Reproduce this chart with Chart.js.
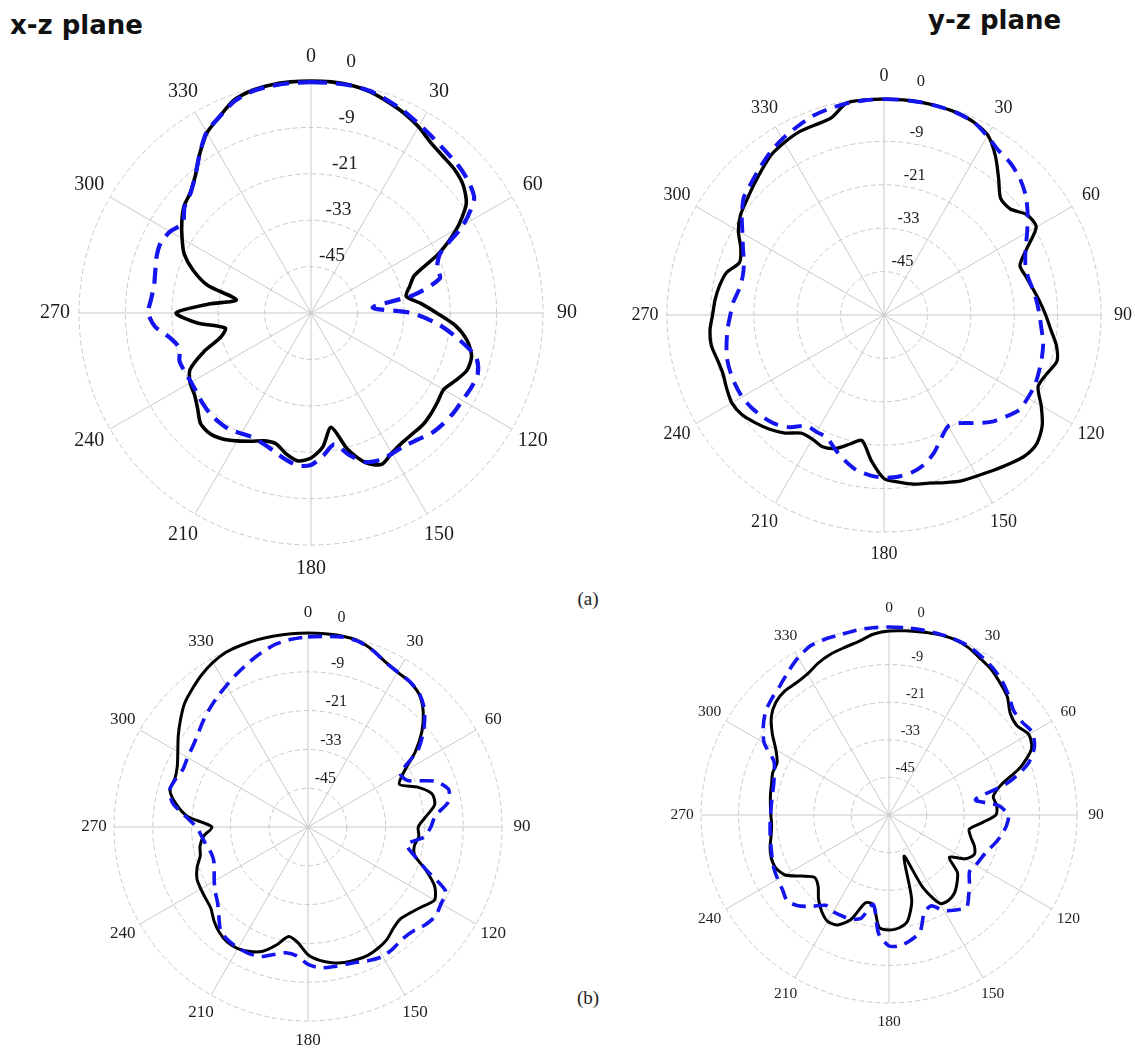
<!DOCTYPE html>
<html>
<head>
<meta charset="utf-8">
<script src="https://cdn.jsdelivr.net/npm/chart.js@4.4.1/dist/chart.umd.min.js"></script>
<style>
  html, body { margin: 0; padding: 0; background: #ffffff; }
  body { width: 1135px; height: 1053px; position: relative; overflow: hidden; }
  canvas.plot { position: absolute; }
  .title { position: absolute; font-family: "DejaVu Sans", sans-serif; font-weight: bold;
           font-size: 26px; line-height: 26px; color: #111; white-space: nowrap; }
  .tag { position: absolute; font-family: "Liberation Serif", "Times New Roman", serif;
         font-size: 19px; line-height: 19px; color: #1c1c1c; transform: translate(-50%, -50%); }
</style>
</head>
<body>
<div class="title" style="left:10px; top:12px;">x-z plane</div>
<div class="title" style="left:928px; top:7px;">y-z plane</div>
<div class="tag" style="left:588px; top:598px;">(a)</div>
<div class="tag" style="left:588px; top:997px;">(b)</div>
<canvas id="xzA" class="plot"></canvas>
<canvas id="yzA" class="plot"></canvas>
<canvas id="xzB" class="plot"></canvas>
<canvas id="yzB" class="plot"></canvas>
<script>
// Angle categories (degrees, clockwise from the top)
const angles = [0, 5, 10, 15, 20, 25, 30, 35, 40, 45, 50, 55, 60, 65, 70, 75, 80, 85,
  90, 95, 100, 105, 110, 115, 120, 125, 130, 135, 140, 145, 150, 155, 160, 165, 170, 175,
  180, 185, 190, 195, 200, 205, 210, 215, 220, 225, 230, 235, 240, 245, 250, 255, 260, 265,
  270, 275, 280, 285, 290, 295, 300, 305, 310, 315, 320, 325, 330, 335, 340, 345, 350, 355];

// Tick labels
const angleTickLabels = ['0', '30', '60', '90', '120', '150', '180', '210', '240', '270', '300', '330'];
const radialTickValues = [-45, -33, -21, -9, 0];
const radialTickLabels = ['-45', '-33', '-21', '-9', '0'];

// Normalised gain (dB), one value per angle category
const xzA_solid = [0, 0, -0.2, -0.8, -1.9, -3.0, -4.4, -6.1, -7.0, -7.5, -8.6, -11.0,
  -16.5, -23.5, -31.5, -33.6, -35.0, -31.5, -27.5, -22.5, -19.0, -17.0, -17.0, -18.7,
  -20.4, -20.0, -19.5, -19.1, -19.2, -19.0, -18.2, -16.8, -18.8, -23.5, -30.0, -25.2,
  -22.5, -21.6, -23.0, -25.0, -24.8, -23.4, -21.8, -20.2, -19.3, -19.6, -21.7, -23.2,
  -23.9, -25.5, -30.4, -35.8, -37.5, -30.5, -25.1, -33.5, -40.4, -32.3, -27.5, -23.8,
  -21.5, -19.2, -17.1, -15.9, -13.5, -9.8, -6.2, -4.0, -1.5, -0.5, -0.1, 0];
const xzA_dashed = [-0.3, -0.3, -0.3, -0.6, -1.6, -2.6, -3.8, -4.8, -5.6, -6.1, -6.9, -8.5,
  -14.6, -23.0, -25.3, -25.5, -33.0, -44.0, -34.0, -27.0, -21.3, -15.8, -14.1, -14.3,
  -14.8, -15.0, -15.4, -16.0, -17.2, -18.0, -18.0, -18.0, -19.0, -22.0, -25.5, -23.0,
  -20.7, -20.4, -21.6, -23.0, -24.0, -24.5, -24.0, -23.2, -23.1, -23.1, -23.5, -24.0,
  -24.2, -24.0, -23.8, -24.8, -23.0, -19.5, -17.9, -18.5, -18.8, -18.3, -17.5, -17.1,
  -17.9, -19.5, -17.3, -16.0, -13.5, -9.8, -6.0, -4.0, -1.8, -0.7, -0.4, -0.3];

const yzA_solid = [-0.3, -0.3, -0.3, -0.4, -0.6, -1.2, -2.6, -6.3, -10.7, -14.4, -14.4, -11.7,
  -11.4, -16.4, -20.0, -19.3, -18.2, -16.8, -15.3, -13.7, -11.6, -10.5, -12.2, -13.0,
  -9.8, -6.6, -4.8, -4.9, -6.2, -7.5, -8.6, -9.4, -10.7, -11.9, -12.5, -13.6,
  -14.8, -19.6, -24.8, -23.0, -20.7, -19.8, -20.4, -20.1, -17.4, -15.3, -13.6, -12.0,
  -11.4, -12.0, -12.6, -12.3, -11.5, -11.7, -12.6, -13.1, -13.8, -14.9, -17.5, -16.3,
  -13.5, -11.6, -10.5, -9.1, -7.5, -5.8, -4.9, -4.2, -4.1, -3.6, -0.5, -0.3];
const yzA_dashed = [-0.3, -0.3, -0.3, -0.4, -0.6, -1.2, -2.9, -4.6, -5.4, -6.8, -8.8, -11.5,
  -14.3, -16.8, -18.4, -18.8, -18.3, -17.6, -17.0, -16.3, -15.3, -14.8, -14.4, -14.0,
  -14.1, -14.3, -16.2, -18.2, -21.0, -23.5, -24.5, -22.5, -19.5, -17.2, -15.8, -15.1,
  -15.0, -15.5, -16.4, -18.3, -20.5, -22.6, -22.7, -22.6, -19.5, -17.4, -16.2, -15.3,
  -14.7, -14.6, -14.7, -15.0, -15.8, -16.6, -17.5, -18.2, -19.3, -19.5, -18.8, -17.0,
  -14.8, -12.0, -9.4, -8.2, -6.7, -5.1, -3.8, -2.7, -1.6, -1.0, -0.6, -0.4];

const xzB_solid = [0, 0, 0, -0.3, -1.7, -3.6, -4.7, -5.2, -6.5, -9.6, -14.0, -19.5,
  -25.7, -28.8, -23.9, -20.3, -20.2, -23.4, -25.9, -25.6, -26.6, -25.8, -21.3, -16.8,
  -14.8, -17.0, -18.7, -19.7, -19.0, -17.5, -16.7, -16.2, -16.3, -16.6, -17.4, -18.6,
  -20.5, -24.1, -25.6, -22.2, -19.1, -17.5, -16.6, -16.5, -17.4, -18.9, -20.8, -21.4,
  -21.7, -22.1, -23.5, -25.5, -26.1, -27.6, -30.3, -22.6, -18.5, -15.8, -16.2, -15.4,
  -13.5, -11.0, -8.5, -6.0, -4.3, -2.6, -1.2, -0.3, -0.1, 0, 0, 0];
const xzB_dashed = [-1.2, -0.8, -0.3, -0.5, -1.8, -3.6, -4.6, -5.1, -6.3, -9.0, -13.3, -18.5,
  -27.0, -26.0, -18.5, -15.0, -16.0, -20.5, -22.0, -24.0, -29.0, -26.0, -21.0, -13.0,
  -12.5, -11.9, -12.8, -14.3, -14.7, -14.1, -13.8, -14.5, -15.5, -16.0, -16.1, -16.3,
  -17.5, -20.0, -20.5, -19.2, -17.4, -16.8, -16.8, -17.1, -18.0, -21.0, -23.5, -25.0,
  -26.5, -28.0, -29.0, -29.0, -28.0, -27.0, -25.5, -22.0, -17.5, -15.7, -16.5, -17.4,
  -17.0, -16.5, -15.5, -14.0, -12.5, -11.0, -9.5, -7.8, -6.0, -4.2, -2.6, -1.7];

const yzB_solid = [-1.3, -1.0, -0.7, -0.3, -0.2, -0.8, -2.1, -3.2, -4.9, -6.6, -9.5, -10.2,
  -8.5, -9.8, -15.3, -23.0, -26.2, -25.5, -25.9, -30.5, -34.0, -33.0, -31.0, -30.0,
  -32.0, -36.5, -31.5, -29.3, -27.5, -26.8, -27.4, -34.5, -46.0, -32.0, -25.7, -23.8,
  -23.3, -24.0, -31.0, -31.0, -24.5, -21.3, -20.8, -22.5, -25.0, -28.0, -29.0, -26.0,
  -21.7, -20.1, -20.0, -20.7, -21.8, -22.4, -22.3, -22.0, -21.6, -21.2, -20.5, -20.6,
  -18.3, -14.5, -11.0, -9.0, -8.3, -8.5, -8.0, -6.5, -5.4, -4.7, -3.8, -2.1];
const yzB_dashed = [0, 0, 0, 0, -0.1, -0.4, -1.4, -2.5, -4.0, -6.0, -8.1, -8.2,
  -7.2, -8.8, -13.0, -21.0, -32.0, -25.0, -21.9, -22.3, -23.5, -25.0, -26.6, -27.5,
  -28.0, -28.6, -26.5, -24.0, -21.5, -23.0, -24.8, -28.0, -27.0, -21.5, -19.5, -18.2,
  -18.2, -22.0, -31.0, -26.0, -24.6, -24.5, -24.4, -24.8, -22.0, -19.0, -17.5, -18.5,
  -19.0, -19.5, -20.3, -21.0, -21.5, -21.9, -22.2, -22.3, -22.2, -21.9, -21.0, -19.5,
  -14.0, -11.0, -8.6, -7.2, -6.0, -4.0, -2.0, -0.5, -0.3, -0.4, -0.1, 0];

const PAD = 46;
const DEG = Math.PI / 180;

// Angle and level captions for one polar panel
function panelText(cfg) {
  return {
    id: 'panelText',
    afterDraw(chart) {
      const s = chart.scales.r;
      const ctx = chart.ctx;
      ctx.save();
      ctx.fillStyle = '#1c1c1c';
      ctx.textAlign = 'center';
      ctx.textBaseline = 'middle';
      ctx.font = cfg.angleFont + 'px "Liberation Serif", "Times New Roman", serif';
      angleTickLabels.forEach((txt) => {
        const idx = angles.indexOf(Number(txt));
        const p = s.getPointPosition(idx, s.drawingArea + cfg.labelGap);
        ctx.fillText(txt, p.x, p.y);
      });
      ctx.font = cfg.tickFont + 'px "Liberation Serif", "Times New Roman", serif';
      ctx.textAlign = 'left';
      const tilt = 8 * DEG;
      radialTickValues.forEach((v, k) => {
        let d = s.getDistanceFromCenterForValue(v);
        if (v === s.max) d += cfg.tickFont * 1.1;
        ctx.fillText(radialTickLabels[k], s.xCenter + d * Math.sin(tilt), s.yCenter - d * Math.cos(tilt));
      });
      ctx.restore();
    }
  };
}

function polarPanel(id, cfg) {
  const canvas = document.getElementById(id);
  const size = 2 * (cfg.radius + PAD);
  canvas.width = size;
  canvas.height = size;
  canvas.style.width = size + 'px';
  canvas.style.height = size + 'px';
  canvas.style.left = (cfg.cx - cfg.radius - PAD) + 'px';
  canvas.style.top = (cfg.cy - cfg.radius - PAD) + 'px';

  return new Chart(canvas, {
    type: 'radar',
    data: {
      labels: angles,
      datasets: [
        { data: cfg.dashed, borderColor: '#1414ee', borderWidth: cfg.lwDash,
          borderDash: cfg.dash, borderCapStyle: 'butt', borderJoinStyle: 'round',
          pointRadius: 0, fill: false, tension: 0.25 },
        { data: cfg.solid, borderColor: '#000000', borderWidth: cfg.lw,
          borderJoinStyle: 'round', pointRadius: 0, fill: false, tension: 0.25 }
      ]
    },
    options: {
      responsive: false,
      animation: false,
      devicePixelRatio: 1,
      events: [],
      layout: { padding: PAD },
      plugins: { legend: { display: false }, tooltip: { enabled: false } },
      scales: {
        r: {
          min: -60, max: 0, startAngle: 0,
          ticks: { display: false, stepSize: 12 },
          grid: { circular: true, color: '#c9c9c9', lineWidth: 1 },
          border: { dash: [5, 3] },
          angleLines: { color: '#c9c9c9', lineWidth: (c) => (c.index % 6 === 0 ? 1 : 0) },
          pointLabels: { display: false }
        }
      }
    },
    plugins: [panelText(cfg)]
  });
}

polarPanel('xzA', { cx: 311, cy: 313, radius: 232, solid: xzA_solid, dashed: xzA_dashed,
  lw: 3.6, lwDash: 4.2, dash: [16, 9], angleFont: 20, tickFont: 19.5, labelGap: 24 });
polarPanel('yzA', { cx: 884, cy: 315, radius: 217, solid: yzA_solid, dashed: yzA_dashed,
  lw: 3.3, lwDash: 3.9, dash: [15, 9], angleFont: 18, tickFont: 16.5, labelGap: 22 });
polarPanel('xzB', { cx: 308, cy: 827, radius: 194, solid: xzB_solid, dashed: xzB_dashed,
  lw: 3.0, lwDash: 3.6, dash: [14, 8], angleFont: 17, tickFont: 16, labelGap: 20 });
polarPanel('yzB', { cx: 889, cy: 815, radius: 188, solid: yzB_solid, dashed: yzB_dashed,
  lw: 3.0, lwDash: 3.6, dash: [14, 8], angleFont: 15.5, tickFont: 14.5, labelGap: 19 });
</script>
</body>
</html>
